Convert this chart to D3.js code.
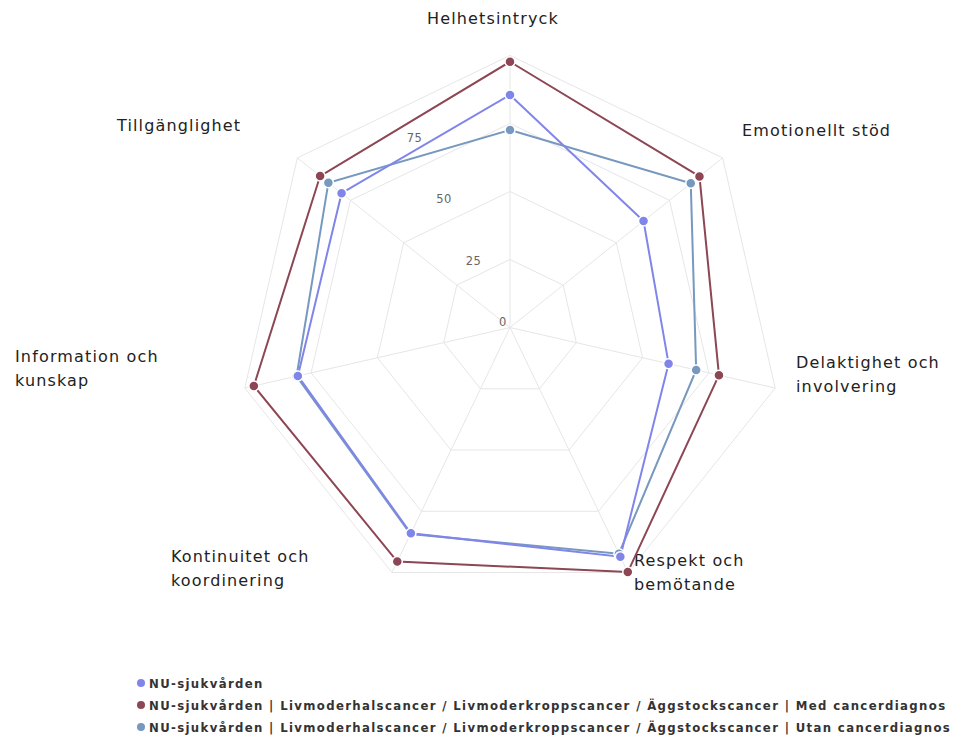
<!DOCTYPE html>
<html><head><meta charset="utf-8">
<script src="https://cdn.jsdelivr.net/npm/d3@7"></script>
<style>body{margin:0;background:#fff}svg{display:block}</style>
</head><body>
<svg id="c" width="953" height="737"></svg>
<script>
const categories = ["Helhetsintryck","Emotionellt stöd","Delaktighet och involvering","Respekt och bemötande","Kontinuitet och koordinering","Information och kunskap","Tillgänglighet"];
const seriesNames = ["NU-sjukvården","NU-sjukvården | Livmoderhalscancer / Livmoderkroppscancer / Äggstockscancer | Med cancerdiagnos","NU-sjukvården | Livmoderhalscancer / Livmoderkroppscancer / Äggstockscancer | Utan cancerdiagnos"];
const nuValues = [85.5, 62.8, 59.8, 93.5, 84.0, 80.0, 79.2];
const medValues = [97.7, 89.1, 78.8, 99.8, 95.5, 96.6, 89.3];
const utanValues = [72.6, 85.0, 70.2, 92.3, 84.3, 80.5, 85.4];
const yTicks = [0, 25, 50, 75, 100];
const yTickLabels = ["0", "25", "50", "75"];
const colors = ["#8085e9", "#8d4654", "#7798bf"];

const svg = d3.select("#c");
const cx = 510, cy = 327.5, R = 272;
const r = d3.scaleLinear().domain([0, 100]).range([0, R]);
const n = categories.length;
const ang = d3.scaleLinear().domain([0, n]).range([0, 2 * Math.PI]);
const pt = (i, v) => [cx + r(v) * Math.sin(ang(i)), cy - r(v) * Math.cos(ang(i))];

const g = svg.append("g");
yTicks.filter(t => t > 0).forEach(t => {
  g.append("path")
    .attr("d", d3.line()(d3.range(n).map(i => pt(i, t))) + "Z")
    .attr("fill", "none").attr("stroke", "#e6e6e6").attr("stroke-width", 1);
});
d3.range(n).forEach(i => {
  const [x, y] = pt(i, 100);
  g.append("line").attr("x1", cx).attr("y1", cy).attr("x2", x).attr("y2", y)
    .attr("stroke", "#e6e6e6").attr("stroke-width", 1);
});
const la = -Math.PI / n;
yTickLabels.forEach((lab, k) => {
  const v = yTicks[k];
  g.append("text")
    .attr("x", cx - 7 + r(v) * Math.sin(la))
    .attr("y", cy - 5.5 - r(v) * Math.cos(la) + 4)
    .attr("text-anchor", "middle")
    .attr("font-family", "DejaVu Sans, sans-serif").attr("font-size", 11.5)
    .attr("letter-spacing", 0.5)
    .attr("fill", "#666").text(lab);
});

const labelPos = [
  {x: 493, y: 24, a: "middle", lines: ["Helhetsintryck"]},
  {x: 742, y: 136, a: "start", lines: ["Emotionellt stöd"]},
  {x: 796, y: 368, a: "start", lines: ["Delaktighet och", "involvering"]},
  {x: 634, y: 566, a: "start", lines: ["Respekt och", "bemötande"]},
  {x: 171, y: 562, a: "start", lines: ["Kontinuitet och", "koordinering"]},
  {x: 15, y: 362, a: "start", lines: ["Information och", "kunskap"]},
  {x: 117, y: 131, a: "start", lines: ["Tillgänglighet"]}
];
categories.forEach((c, i) => {
  const p = labelPos[i];
  const t = g.append("text").attr("x", p.x).attr("y", p.y).attr("text-anchor", p.a)
    .attr("font-family", "DejaVu Sans, sans-serif").attr("font-size", 16)
    .attr("letter-spacing", 1.15).attr("fill", "#222");
  p.lines.forEach((l, j) => t.append("tspan").attr("x", p.x).attr("dy", j ? 23.5 : 0).text(l));
});

const allSeries = [nuValues, medValues, utanValues];
const order = [2, 0, 1];
order.forEach(s => {
  const pts = allSeries[s].map((v, i) => pt(i, v));
  g.append("path").attr("d", d3.line()(pts) + "Z")
    .attr("fill", "none").attr("stroke", colors[s]).attr("stroke-width", 2);
});
order.forEach(s => {
  allSeries[s].forEach((v, i) => {
    const [x, y] = pt(i, v);
    g.append("circle").attr("cx", x).attr("cy", y).attr("r", 5)
      .attr("fill", colors[s]).attr("stroke", "#fff").attr("stroke-width", 1.5);
  });
});

seriesNames.forEach((name, s) => {
  const y = 683 + s * 22;
  svg.append("circle").attr("cx", 141).attr("cy", y).attr("r", 4).attr("fill", colors[s]);
  svg.append("text").attr("x", 149).attr("y", y + 4.5)
    .attr("font-family", "DejaVu Sans Condensed, DejaVu Sans, sans-serif").attr("font-weight", "bold")
    .attr("font-size", 13).attr("letter-spacing", 1.35).attr("fill", "#333").text(name);
});
</script>
</body></html>
